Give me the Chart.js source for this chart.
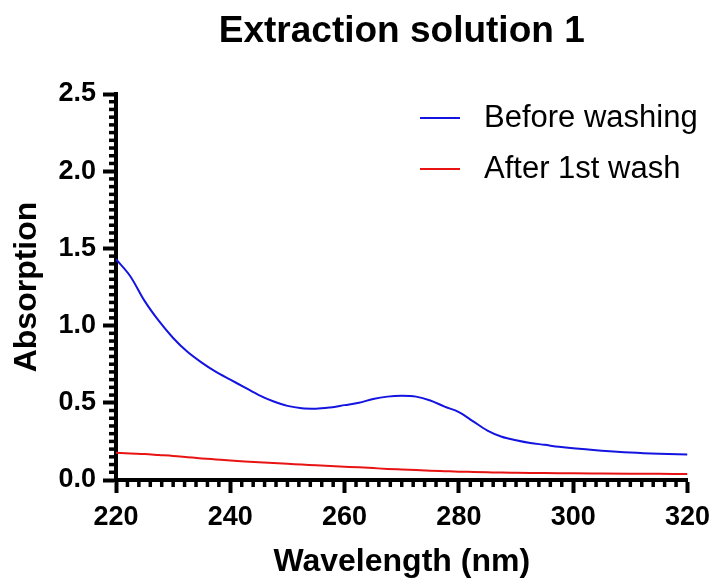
<!DOCTYPE html>
<html>
<head>
<meta charset="utf-8">
<script src="https://cdn.jsdelivr.net/npm/chart.js@4"></script>
<style>
  body { margin: 0; background: #fff; }
  #wrap { width: 718px; height: 580px; position: relative; }
</style>
</head>
<body>
<div id="wrap"><canvas id="spectrumChart"></canvas></div>
<script>
// Values
const wavelengths = [220, 222.5, 225, 227.5, 230, 232.5, 235, 237.5, 240, 242.5, 245, 247.5,
    250, 252.5, 255, 257.5, 260, 262.5, 265, 267.5, 270, 272.5, 275, 277.5, 280, 282.5,
    285, 287.5, 290, 292.5, 295, 297.5, 300, 305, 310, 315, 320];
const beforeWashing = [1.43, 1.32, 1.16, 1.03, 0.92, 0.83, 0.76, 0.70, 0.65, 0.60, 0.55, 0.51,
    0.48, 0.465, 0.462, 0.47, 0.485, 0.50, 0.525, 0.54, 0.545, 0.54, 0.515, 0.475, 0.44, 0.38,
    0.32, 0.28, 0.258, 0.24, 0.228, 0.215, 0.205, 0.19, 0.178, 0.17, 0.165];
const afterFirstWash = [0.177, 0.172, 0.168, 0.162, 0.156, 0.148, 0.140, 0.133, 0.126, 0.120, 0.115, 0.110,
    0.105, 0.100, 0.095, 0.090, 0.086, 0.082, 0.077, 0.072, 0.068, 0.064, 0.060, 0.057, 0.054, 0.052,
    0.050, 0.048, 0.047, 0.046, 0.045, 0.044, 0.043, 0.042, 0.041, 0.040, 0.039];
const seriesLabels = ['Before washing', 'After 1st wash'];
const xMajorTicks = [220, 240, 260, 280, 300, 320];
const yMajorTicks = [0, 0.5, 1.0, 1.5, 2.0, 2.5];
const xMinorStep = 2;
const yMinorStep = 0.05;

const FONT = "'Liberation Sans', Arial, sans-serif";

function toPoints(values) {
    return wavelengths.map((w, i) => ({ x: w, y: values[i] }));
}

// minor ticks (Chart.js has none of its own)
const minorTicks = {
    id: 'minorTicks',
    afterDraw(chart) {
        const ctx = chart.ctx;
        const xs = chart.scales.x, ys = chart.scales.y;
        const area = chart.chartArea;
        ctx.save();
        ctx.strokeStyle = '#000';
        ctx.lineWidth = 3.5;
        for (let v = xs.min; v <= xs.max + 1e-9; v += xMinorStep) {
            if (xMajorTicks.includes(Math.round(v))) continue;
            const px = xs.getPixelForValue(v);
            ctx.beginPath();
            ctx.moveTo(px, area.bottom);
            ctx.lineTo(px, area.bottom + 7);
            ctx.stroke();
        }
        for (let i = 1; i * yMinorStep < ys.max - 1e-9; i++) {
            const v = i * yMinorStep;
            if (i % 10 === 0) continue;
            const py = ys.getPixelForValue(v);
            ctx.beginPath();
            ctx.moveTo(area.left - 7, py);
            ctx.lineTo(area.left, py);
            ctx.stroke();
        }
        ctx.restore();
    }
};

// legend drawn inside the plot, top right
const insideLegend = {
    id: 'insideLegend',
    afterDraw(chart) {
        const ctx = chart.ctx;
        const area = chart.chartArea;
        ctx.save();
        ctx.font = '31px ' + FONT;
        ctx.textBaseline = 'middle';
        ctx.fillStyle = '#000';
        chart.data.datasets.forEach((ds, i) => {
            const y = area.top + 24 + i * 51;
            ctx.strokeStyle = ds.borderColor;
            ctx.lineWidth = 2;
            ctx.beginPath();
            ctx.moveTo(area.left + 304, y);
            ctx.lineTo(area.left + 344, y);
            ctx.stroke();
            ctx.fillText(ds.label, area.left + 368, y);
        });
        ctx.restore();
    }
};

const ctx = document.getElementById('spectrumChart').getContext('2d');
const chart = new Chart(ctx, {
    type: 'line',
    data: {
        datasets: [{
            label: seriesLabels[0],
            data: toPoints(beforeWashing),
            borderColor: 'rgb(20, 20, 225)',
            borderWidth: 2,
            pointRadius: 0,
            cubicInterpolationMode: 'monotone'
        }, {
            label: seriesLabels[1],
            data: toPoints(afterFirstWash),
            borderColor: 'rgb(232, 20, 20)',
            borderWidth: 2,
            pointRadius: 0,
            cubicInterpolationMode: 'monotone'
        }]
    },
    options: {
        responsive: true,
        maintainAspectRatio: false,
        animation: false,
        layout: { padding: { left: 0, right: 27, top: 0, bottom: 0 } },
        plugins: {
            legend: { display: false },
            tooltip: { enabled: false },
            title: {
                display: true,
                fullSize: false,
                text: 'Extraction solution 1',
                color: '#000',
                font: { family: FONT, size: 37, weight: 'bold' },
                padding: { top: 10, bottom: 39.6 }
            }
        },
        scales: {
            x: {
                type: 'linear',
                min: 220,
                max: 320,
                afterFit: s => { s.height = 100; },
                afterBuildTicks: s => { s.ticks = xMajorTicks.map(v => ({ value: v })); },
                ticks: {
                    color: '#000',
                    padding: 8,
                    maxRotation: 0,
                    font: { family: FONT, size: 27, weight: 'bold' },
                    callback: v => String(v)
                },
                grid: { drawOnChartArea: false, tickLength: 13, tickWidth: 4, tickColor: '#000' },
                border: { display: true, width: 4, color: '#000' },
                title: {
                    display: true,
                    text: 'Wavelength (nm)',
                    color: '#000',
                    font: { family: FONT, size: 32, weight: 'bold' },
                    padding: { top: 0, bottom: -1 }
                }
            },
            y: {
                min: 0,
                max: 2.5,
                afterFit: s => { s.width = 116; },
                afterBuildTicks: s => { s.ticks = yMajorTicks.map(v => ({ value: v })); },
                ticks: {
                    color: '#000',
                    padding: 7,
                    font: { family: FONT, size: 27, weight: 'bold' },
                    callback: v => v.toFixed(1)
                },
                grid: { drawOnChartArea: false, tickLength: 13, tickWidth: 4, tickColor: '#000' },
                border: { display: true, width: 4, color: '#000' },
                title: {
                    display: true,
                    text: 'Absorption',
                    color: '#000',
                    font: { family: FONT, size: 32, weight: 'bold' },
                    padding: { top: 8, bottom: 0 }
                }
            }
        }
    },
    plugins: [minorTicks, insideLegend]
});
</script>
</body>
</html>
